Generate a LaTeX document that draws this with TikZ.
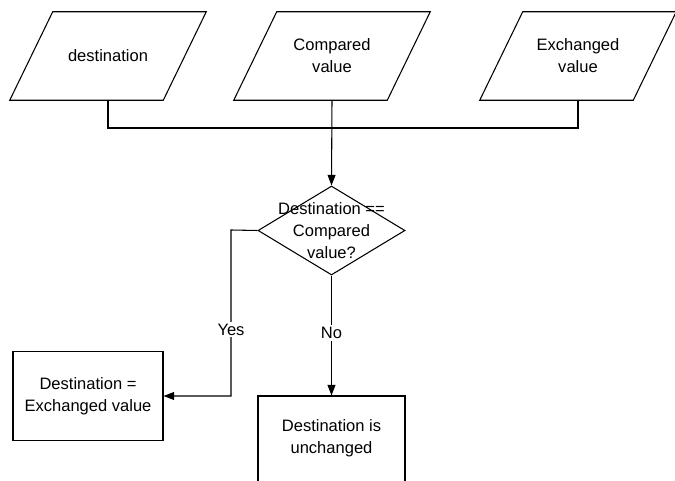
\documentclass[tikz,border=0pt]{standalone}
\usepackage{fontspec}
\setmainfont{Liberation Sans}
\usetikzlibrary{shapes.geometric,arrows.meta}
\begin{document}
\begin{tikzpicture}[x=0.75pt,y=-0.75pt,
  every node/.style={font=\fontsize{12.4}{16.5}\selectfont,align=center,text=black},
  iobox/.style={rectangle,inner sep=0pt,minimum width=153*0.75pt,minimum height=88*0.75pt},
  para/.style={line width=0.8pt,line join=miter},
  procbox/.style={draw,line width=0.8pt,rectangle,inner sep=0pt},
  decbox/.style={draw,line width=0.8pt,diamond,inner sep=0pt,minimum width=147*0.75pt,minimum height=89*0.75pt},
  conn/.style={line width=0.8pt},
  arr/.style={line width=0.8pt,-{Triangle[length=8pt,width=6pt]}},
  lbl/.style={fill=white,inner sep=1.5pt}]
\useasboundingbox (0,0) rectangle (675,481);
\clip (0,0) rectangle (675,481);
\node[iobox] (p1) at (108,56) {destination};
\node[iobox] (p2) at (332,56) {Compared\\value};
\node[iobox] (p3) at (578,56) {Exchanged\\value};
\foreach \p in {p1,p2,p3}{
  \draw[para] ([xshift=-21.5*0.75pt]\p.south west) -- ([xshift=21.5*0.75pt]\p.north west)
    -- ([xshift=21.5*0.75pt]\p.north east) -- ([xshift=-21.5*0.75pt]\p.south east) -- cycle;
}
\coordinate (jl) at (108,128);
\coordinate (jr) at (578,128);
\node[decbox] (d) at (331.5,230.5) {};
\node (dt) at (331.5,231) {Destination ==\\Compared\\value?};
\node[procbox,minimum width=150*0.75pt,minimum height=89*0.75pt] (b1) at (88,396) {Destination =\\Exchanged value};
\node[procbox,minimum width=147*0.75pt,minimum height=90*0.75pt] (b2) at (331.5,441) {};
\node (b2t) at (331.5,438) {Destination is\\unchanged};
\coordinate (yx) at (231,230);
\draw[conn] (p1.south) -- (jl) -- (jr) -- (p3.south);
\draw[arr] (p2.south) -- (d.north);
\draw[arr] (d.west) -- (yx) |- node[lbl,pos=0.3] {Yes} (b1.east);
\draw[arr] (d.south) -- node[lbl,pos=0.48] {No} (b2.north);
\end{tikzpicture}
\end{document}
